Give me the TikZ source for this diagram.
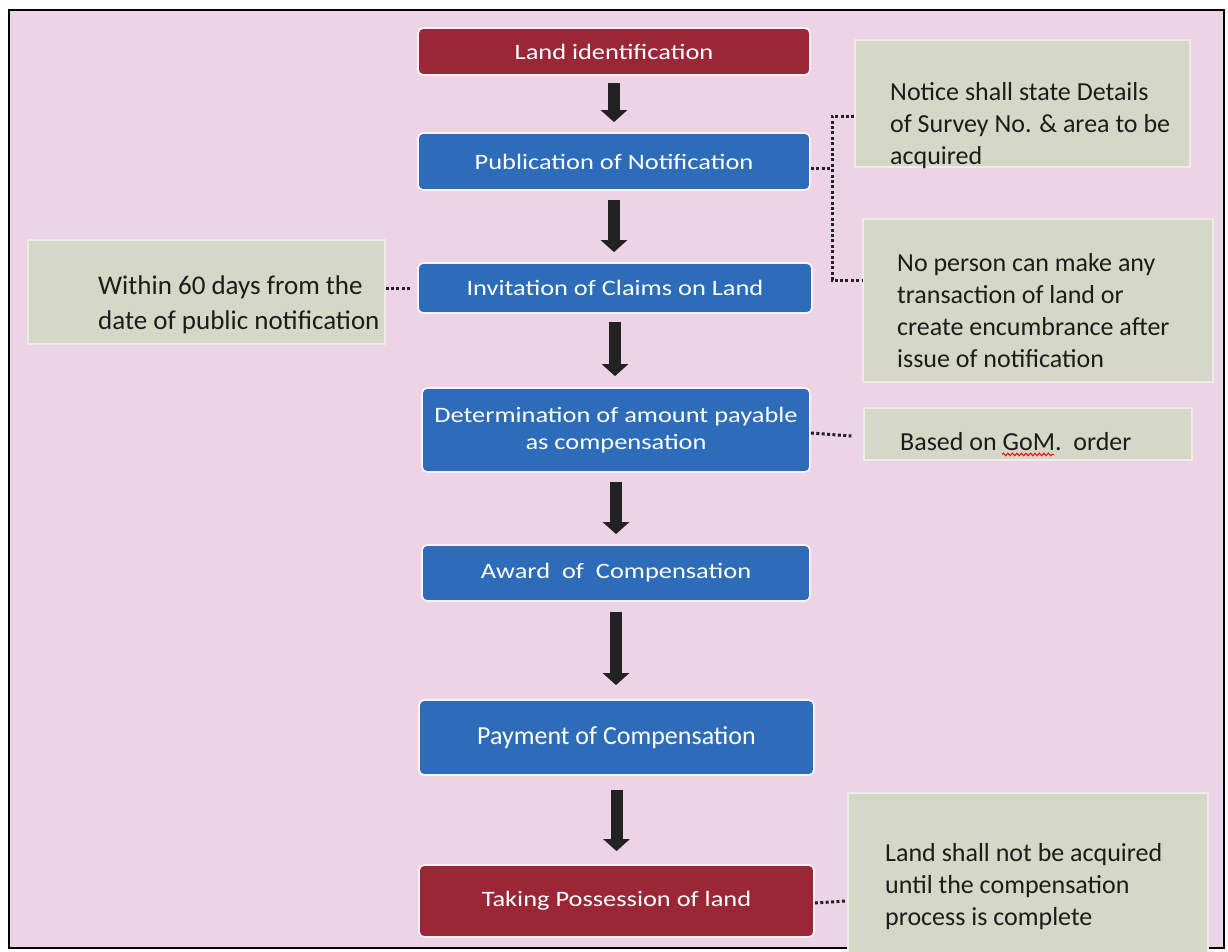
\documentclass[tikz,border=0pt]{standalone}
\usepackage{fontspec}
\setmainfont{Carlito}
\newfontfamily\flowfont{Carlito}[FakeStretch=1.2]
\usetikzlibrary{arrows.meta,decorations.pathmorphing}
\definecolor{pinkbg}{HTML}{EDD3E6}
\definecolor{flowblue}{HTML}{2C6CB9}
\definecolor{flowred}{HTML}{9B2636}
\definecolor{notefill}{HTML}{D5D8C7}
\definecolor{arrowc}{HTML}{222222}
\definecolor{textdark}{HTML}{1C1C1C}
\tikzset{
  flowbox/.style={rectangle, rounded corners=5pt, draw=white!70!pinkbg, line width=1.8pt,
    text=white, inner sep=0pt, align=center, font=\flowfont\fontsize{22}{27}\selectfont},
  notebox/.style={rectangle, fill=notefill, draw=white!55!notefill, line width=1.2pt, inner sep=0pt},
  notetext/.style={inner sep=0pt, anchor=west, align=left, text=textdark, font=\fontsize{26}{32}\selectfont},
  flowarrow/.style={draw=arrowc, line width=12pt, -{Triangle[width=26pt,length=12pt]}},
  dotline/.style={draw=arrowc, line width=3pt, dash pattern=on 3pt off 2.4pt}
}
\begin{document}
\begin{tikzpicture}[x=1pt,y=-1pt]
\useasboundingbox (0,0) rectangle (1228,951);
\fill[white] (0,0) rectangle (1228,951);
\draw[line width=2.8pt, fill=pinkbg] (9,10) rectangle (1224,948);

% flow boxes
\node[flowbox, fill=flowred, minimum width=392pt, minimum height=47pt] (land) at (614,51.5) {Land identification};
\node[flowbox, fill=flowblue, minimum width=392pt, minimum height=57pt] (pub) at (614,161.5) {Publication of Notification};
\node[flowbox, fill=flowblue, minimum width=394pt, minimum height=50pt] (inv) at (615,288) {Invitation of Claims on Land};
\node[flowbox, fill=flowblue, minimum width=388pt, minimum height=84pt] (det) at (616,430) {Determination of amount payable\\as compensation};
\node[flowbox, fill=flowblue, minimum width=388pt, minimum height=56pt] (award) at (616,573) {Award\ \ of\ \ Compensation};
\node[flowbox, fill=flowblue, minimum width=395pt, minimum height=75pt, font=\fontsize{26}{30}\selectfont] (pay) at (616.5,737.5) {Payment of Compensation};
\node[flowbox, fill=flowred, minimum width=395pt, minimum height=72pt] (take) at (616.5,901) {Taking Possession of land};

% arrows
\draw[flowarrow] ([yshift=-7pt]land.south) -- ([yshift=10pt]land.south |- pub.north);
\draw[flowarrow] ([yshift=-9pt]pub.south) -- ([yshift=10pt]pub.south |- inv.north);
\draw[flowarrow] ([yshift=-8pt]inv.south) -- ([yshift=11pt]inv.south |- det.north);
\draw[flowarrow] ([yshift=-9pt]det.south) -- ([yshift=10pt]det.south |- award.north);
\draw[flowarrow] ([yshift=-10pt]award.south) -- ([yshift=14pt]award.south |- pay.north);
\draw[flowarrow] ([yshift=-14pt]pay.south) -- ([yshift=13pt]pay.south |- take.north);

% note boxes
\node[notebox, minimum width=335pt, minimum height=127pt] (notice) at (1022.5,103.5) {};
\node[notebox, minimum width=350pt, minimum height=163pt] (nop) at (1038,300.5) {};
\node[notebox, minimum width=357pt, minimum height=104pt] (within) at (206.5,292) {};
\node[notebox, minimum width=328pt, minimum height=52pt] (based) at (1028,434) {};
\node[notebox, minimum width=360pt, minimum height=160pt] (landshall) at (1028,873) {};

% note texts
\node[notetext] (noticet) at (890,126) {Notice shall state Details\\of Survey No. \& area to be\\acquired};
\node[notetext] (nopt) at (897,311) {No person can make any\\transaction of land or\\create encumbrance after\\issue of notification};
\node[notetext, font=\fontsize{27}{35}\selectfont] (withint) at (98,305) {Within 60 days from the\\date of public notification};
\node[notetext] (basedt) at (900,442) {Based on GoM.\ \ order};
\node[notetext] (landshallt) at (885,887) {Land shall not be acquired\\until the compensation\\process is complete};
\draw[red, line width=1pt, decorate, decoration={snake, amplitude=1.3pt, segment length=4.5pt}]
  ([xshift=102pt,yshift=-3.5pt]basedt.base west) -- ++(52,0);

% dotted connectors
\coordinate (brk) at (832,168);
\draw[dotline] ([yshift=-6.5pt]pub.east) -- (brk);
\draw[dotline] ([yshift=-12.5pt]notice.west) -| (brk) |- ([yshift=20.5pt]nop.west);
\draw[dotline] ([yshift=4pt]within.east) -- ([xshift=-6pt]inv.west);
\draw[dotline] ([yshift=-3pt]det.east) -- ([xshift=-12pt,yshift=-2pt]based.west);
\draw[dotline] ([yshift=-2pt]take.east) -- ([xshift=-2pt]landshall.west |- take.east);
\end{tikzpicture}
\end{document}
